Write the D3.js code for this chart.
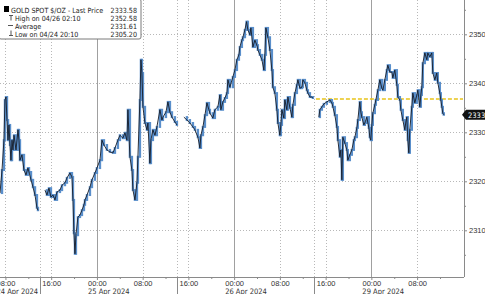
<!DOCTYPE html>
<html lang="en">
<head>
<meta charset="UTF-8">
<title>Gold Spot $/OZ</title>
<script src="https://d3js.org/d3.v7.min.js"></script>
<style>
  body { margin: 0; background: #fff; }
  svg { display: block; font-family: "DejaVu Sans Condensed", "DejaVu Sans", sans-serif; font-size: 7.5px; }
  .grid-dot { stroke: #b8b8b8; stroke-width: 1; stroke-dasharray: 1,2; }
  .grid-day { stroke: #a0a0a0; stroke-width: 1; }
  .axis path, .axis line { stroke: #8a8a8a; }
  .axis text { fill: #333; font-size: 7.5px; }
  .legend text { fill: #222; font-size: 7.1px; }
</style>
</head>
<body>
<svg width="485" height="294"></svg>
<script>
// hours are trading hours since 24 Apr 00:00, weekend squeezed out (Fri 14:00 -> Sun 15:00)
const sessionApr24 = [
  [7.05, 2317.6], [7.40, 2322.3], [7.74, 2328.4], [7.92, 2336.6], [8.10, 2337.2], [8.27, 2332.5],
  [8.45, 2328.4], [8.62, 2331.5], [8.80, 2327.4], [8.97, 2324.3], [9.15, 2328.4], [9.32, 2326.4],
  [9.50, 2329.4], [9.85, 2326.4], [10.20, 2330.5], [10.37, 2328.4], [10.54, 2324.3], [10.89, 2325.4],
  [11.24, 2322.3], [11.59, 2321.3], [11.94, 2322.7], [12.12, 2321.9], [12.47, 2320.3], [12.82, 2318.8],
  [13.17, 2317.2], [13.51, 2314.6], [13.69, 2314.1]
];
const sessionApr25 = [
  [14.91, 2318.2], [15.26, 2317.2], [15.61, 2318.6], [15.96, 2316.8], [16.31, 2317.2], [16.66, 2316.2],
  [17.01, 2317.8], [17.53, 2318.2], [17.89, 2319.2], [18.41, 2319.7], [18.76, 2320.7], [19.28, 2321.7],
  [19.63, 2320.9], [19.81, 2316.2], [19.98, 2309.4], [20.16, 2305.2], [20.33, 2309.0], [20.68, 2312.7],
  [21.03, 2313.1], [21.38, 2314.1], [21.73, 2315.2], [21.91, 2316.2], [22.26, 2317.2], [22.78, 2318.8],
  [23.13, 2320.3], [23.65, 2321.7], [24.00, 2322.7], [24.53, 2324.3], [24.88, 2328.4], [25.23, 2327.4],
  [25.75, 2326.4], [26.28, 2326.0], [26.80, 2325.8], [27.15, 2326.8], [27.67, 2328.4], [28.02, 2329.4],
  [28.55, 2328.8], [28.90, 2329.9], [29.25, 2328.4], [29.42, 2334.6], [29.77, 2325.0], [30.12, 2322.3],
  [30.30, 2318.2], [30.65, 2316.2], [31.00, 2319.7], [31.17, 2325.0], [31.52, 2336.6], [31.70, 2344.8],
  [31.87, 2342.1], [32.05, 2335.2], [32.40, 2331.9], [32.75, 2330.5], [32.92, 2331.9], [33.27, 2323.7],
  [33.44, 2328.4], [33.79, 2330.5], [34.15, 2329.4], [34.49, 2331.1], [35.02, 2334.6], [35.37, 2332.5],
  [35.54, 2333.1], [36.07, 2334.1], [36.42, 2336.2], [36.77, 2334.1], [37.12, 2333.1], [37.64, 2332.1],
  [37.99, 2331.5]
];
const sessionApr26 = [
  [39.21, 2333.1], [39.74, 2332.5], [40.26, 2331.9], [40.79, 2331.1], [41.14, 2330.5], [41.66, 2329.0],
  [42.01, 2326.8], [42.19, 2329.4], [42.54, 2331.1], [42.89, 2333.5], [43.24, 2336.0], [43.59, 2334.6],
  [43.76, 2333.9], [44.28, 2332.9], [44.63, 2334.6], [45.16, 2335.2], [45.51, 2337.6], [45.68, 2334.6],
  [46.03, 2336.2], [46.38, 2337.0], [46.73, 2338.0], [46.91, 2340.7], [47.25, 2339.2], [47.78, 2341.3],
  [48.13, 2342.7], [48.48, 2344.8], [48.83, 2345.8], [49.00, 2347.4], [49.35, 2348.8], [49.53, 2349.4],
  [49.88, 2350.9], [50.17, 2352.58], [50.40, 2350.9], [50.75, 2349.9], [50.93, 2351.3], [51.28, 2347.4],
  [51.63, 2348.8], [51.97, 2347.8], [52.15, 2346.8], [52.50, 2345.8], [52.85, 2344.8], [53.20, 2342.7],
  [53.37, 2345.8], [53.55, 2351.3], [53.90, 2349.4], [54.25, 2346.8], [54.60, 2342.7], [54.77, 2339.2],
  [55.12, 2338.0], [55.47, 2334.6], [55.65, 2331.9], [56.00, 2329.4], [56.17, 2331.5], [56.35, 2334.6],
  [56.70, 2332.9], [56.87, 2336.6], [57.22, 2334.6], [57.40, 2337.2], [57.75, 2335.0], [58.10, 2333.1],
  [58.27, 2335.6], [58.62, 2338.0], [58.97, 2339.7], [59.15, 2340.7], [59.50, 2339.0], [59.85, 2339.2],
  [60.02, 2340.7], [60.37, 2340.1], [60.72, 2338.6], [60.90, 2338.0], [61.25, 2337.2], [61.59, 2337.2],
  [61.77, 2337.0]
];
const sessionApr29 = [
  [62.82, 2333.1], [62.99, 2334.6], [63.34, 2335.2], [63.69, 2335.8], [64.21, 2336.2], [64.74, 2336.6],
  [65.09, 2336.0], [65.26, 2335.2], [65.61, 2333.5], [65.96, 2331.1], [66.14, 2328.4], [66.49, 2325.0],
  [66.66, 2326.4], [66.84, 2320.3], [67.01, 2329.0], [67.36, 2327.8], [67.71, 2326.4], [67.88, 2324.3],
  [68.23, 2325.4], [68.58, 2326.4], [68.93, 2328.4], [69.11, 2329.0], [69.46, 2330.9], [69.63, 2332.5],
  [69.98, 2336.2], [70.16, 2334.1], [70.33, 2333.1], [70.68, 2331.5], [70.86, 2331.9], [71.20, 2333.1],
  [71.56, 2330.9], [71.73, 2329.0], [71.90, 2328.4], [72.08, 2331.5], [72.25, 2333.9], [72.60, 2335.6],
  [72.78, 2336.6], [73.13, 2338.6], [73.48, 2340.7], [73.83, 2339.0], [74.01, 2338.6], [74.35, 2340.7],
  [74.70, 2342.7], [74.88, 2343.7], [75.23, 2342.3], [75.58, 2342.3], [75.75, 2341.1], [76.10, 2342.7],
  [76.45, 2339.7], [76.63, 2337.2], [76.98, 2336.6], [77.15, 2334.6], [77.50, 2332.5], [77.85, 2330.5],
  [78.03, 2332.1], [78.20, 2333.1], [78.37, 2328.4], [78.55, 2325.8], [78.72, 2330.5], [79.07, 2335.2],
  [79.25, 2338.0], [79.60, 2336.0], [79.95, 2337.6], [80.12, 2338.6], [80.47, 2335.2], [80.65, 2337.6],
  [80.82, 2339.2], [81.00, 2344.1], [81.35, 2346.2], [81.70, 2344.8], [81.87, 2346.2], [82.22, 2345.4],
  [82.57, 2346.2], [82.75, 2342.1], [83.10, 2340.7], [83.44, 2342.1], [83.62, 2340.1], [83.97, 2338.0],
  [84.14, 2336.6], [84.32, 2335.2], [84.49, 2333.9], [84.67, 2333.58]
];
const sessions = [sessionApr24, sessionApr25, sessionApr26, sessionApr29];

const majorHours = [8, 16, 24, 32, 40, 48, 56, 64, 72, 80];
const majorLabels = ["08:00", "16:00", "00:00", "08:00", "16:00", "00:00", "08:00", "16:00", "00:00", "08:00"];
const dayStartHours = [24, 48, 72];
const sessionBreaks = [14, 38, 62];
const dateLabels = ["24 Apr 2024", "25 Apr 2024", "26 Apr 2024", "29 Apr 2024"];
const dateAnchorHours = [8, 24, 48, 72];

const priceTicks = [2310, 2320, 2330, 2340, 2350];
const priceMinorTicks = [2305, 2315, 2325, 2335, 2345, 2355];

const legendLabels = ["GOLD SPOT $/OZ - Last Price", "High on 04/26 02:10", "Average", "Low on 04/24 20:10"];
const legendValues = ["2333.58", "2352.58", "2331.61", "2305.20"];
const lastPrice = 2333.58;
const refLevel = 2336.8;
const refLevelFrom = 62.3;

const plotW = 464, plotH = 277;
const svg = d3.select("svg");

const x = d3.scaleLinear().domain([7.05, 88.2]).range([0, plotW]);
const y = d3.scaleLinear().domain([2300.47, 2357]).range([plotH, 0]);

// gridlines
svg.append("g").selectAll("line")
  .data(priceTicks)
  .enter().append("line")
  .attr("class", "grid-dot")
  .attr("x1", 0).attr("x2", plotW)
  .attr("y1", d => Math.round(y(d)) + 0.5).attr("y2", d => Math.round(y(d)) + 0.5);

const dotted = majorHours.filter(h => !dayStartHours.includes(h)).concat(sessionBreaks);
svg.append("g").selectAll("line")
  .data(dotted)
  .enter().append("line")
  .attr("class", "grid-dot")
  .attr("x1", d => Math.round(x(d)) + 0.5).attr("x2", d => Math.round(x(d)) + 0.5)
  .attr("y1", 0).attr("y2", plotH);

svg.append("g").selectAll("line")
  .data(dayStartHours)
  .enter().append("line")
  .attr("class", "grid-day")
  .attr("x1", d => Math.round(x(d)) + 0.5).attr("x2", d => Math.round(x(d)) + 0.5)
  .attr("y1", 0).attr("y2", plotH);

// reference level
svg.append("line")
  .attr("x1", x(refLevelFrom)).attr("x2", plotW - 1)
  .attr("y1", y(refLevel)).attr("y2", y(refLevel))
  .attr("stroke", "#e8c41a")
  .attr("stroke-width", 1.3)
  .attr("stroke-dasharray", "4,2");

// price: blue range bars between successive prints, dark line on top
const steps = sessions.flatMap(s => d3.pairs(s));
svg.append("g").selectAll("rect")
  .data(steps)
  .enter().append("rect")
  .attr("x", d => x(d[1][0]) - 1.2)
  .attr("width", 2.4)
  .attr("y", d => y(Math.max(d[0][1], d[1][1])) - 1)
  .attr("height", d => Math.abs(y(d[0][1]) - y(d[1][1])) + 2)
  .attr("fill", "#5a8fcb");

const line = d3.line().x(d => x(d[0])).y(d => y(d[1]));
svg.append("g").selectAll("path")
  .data(sessions)
  .enter().append("path")
  .attr("d", line)
  .attr("fill", "none")
  .attr("stroke", "#161c27")
  .attr("stroke-width", 0.9);

// x axis
const xAxis = svg.append("g")
  .attr("class", "axis")
  .attr("transform", `translate(0,${plotH})`)
  .call(d3.axisBottom(x)
    .tickValues(majorHours)
    .tickSize(3)
    .tickPadding(1)
    .tickFormat((d, i) => majorLabels[i]));
xAxis.select(".domain").attr("d", `M0,0.5H${plotW}`);
xAxis.selectAll(".tick text").attr("dy", "0.6em");

svg.append("g")
  .attr("class", "axis")
  .attr("transform", `translate(0,${plotH})`)
  .call(d3.axisBottom(x)
    .tickValues(d3.range(12, 88, 8))
    .tickSize(2)
    .tickFormat(""))
  .select(".domain").remove();

svg.append("g").selectAll("line")
  .data(sessionBreaks)
  .enter().append("line")
  .attr("x1", d => Math.round(x(d)) + 0.5).attr("x2", d => Math.round(x(d)) + 0.5)
  .attr("y1", plotH).attr("y2", 294)
  .attr("stroke", "#8a8a8a");

svg.append("g").selectAll("text")
  .data(dateLabels)
  .enter().append("text")
  .attr("x", (d, i) => x(dateAnchorHours[i]) - 9)
  .attr("y", 293.5)
  .attr("fill", "#333")
  .text(d => d);

// y axis
const yAxis = svg.append("g")
  .attr("class", "axis")
  .attr("transform", `translate(${plotW},0)`)
  .call(d3.axisRight(y)
    .tickValues(priceTicks)
    .tickSize(3)
    .tickPadding(2)
    .tickFormat(d3.format("d")));
yAxis.select(".domain").attr("d", `M0.5,0V${plotH}`);

svg.append("g")
  .attr("class", "axis")
  .attr("transform", `translate(${plotW},0)`)
  .call(d3.axisRight(y)
    .tickValues(priceMinorTicks)
    .tickSize(2)
    .tickFormat(""))
  .select(".domain").remove();

// last price tag
const ly = y(lastPrice);
svg.append("path")
  .attr("d", `M${plotW - 2},${ly} L${plotW + 2},${ly - 5} H485 V${ly + 5} H${plotW + 2} Z`)
  .attr("fill", "#111");
svg.append("text")
  .attr("x", plotW + 4)
  .attr("y", ly + 2.8)
  .attr("fill", "#fff")
  .text(Math.floor(lastPrice));

// legend
const legend = svg.append("g").attr("class", "legend");
legend.append("rect")
  .attr("x", -1).attr("y", -1)
  .attr("width", 142).attr("height", 40)
  .attr("rx", 2)
  .attr("fill", "#fff")
  .attr("stroke", "#7a7a7a");

const rowY = [13, 21, 29, 37];
legend.append("rect").attr("x", 4).attr("y", 6).attr("width", 5).attr("height", 6).attr("fill", "#000");
legend.append("path").attr("d", "M9,15.5H13M11,15.5V20.5").attr("stroke", "#555").attr("fill", "none");
legend.append("path").attr("d", "M8,25.5H13").attr("stroke", "#555").attr("fill", "none");
legend.append("path").attr("d", "M11,30.5V35.5M9,35.5H13").attr("stroke", "#555").attr("fill", "none");

legend.selectAll(".lab")
  .data(legendLabels)
  .enter().append("text")
  .attr("x", (d, i) => i === 0 ? 11 : 15)
  .attr("y", (d, i) => rowY[i])
  .text(d => d);

legend.selectAll(".val")
  .data(legendValues)
  .enter().append("text")
  .attr("x", 137)
  .attr("y", (d, i) => rowY[i])
  .attr("text-anchor", "end")
  .text(d => d);
</script>
</body>
</html>
